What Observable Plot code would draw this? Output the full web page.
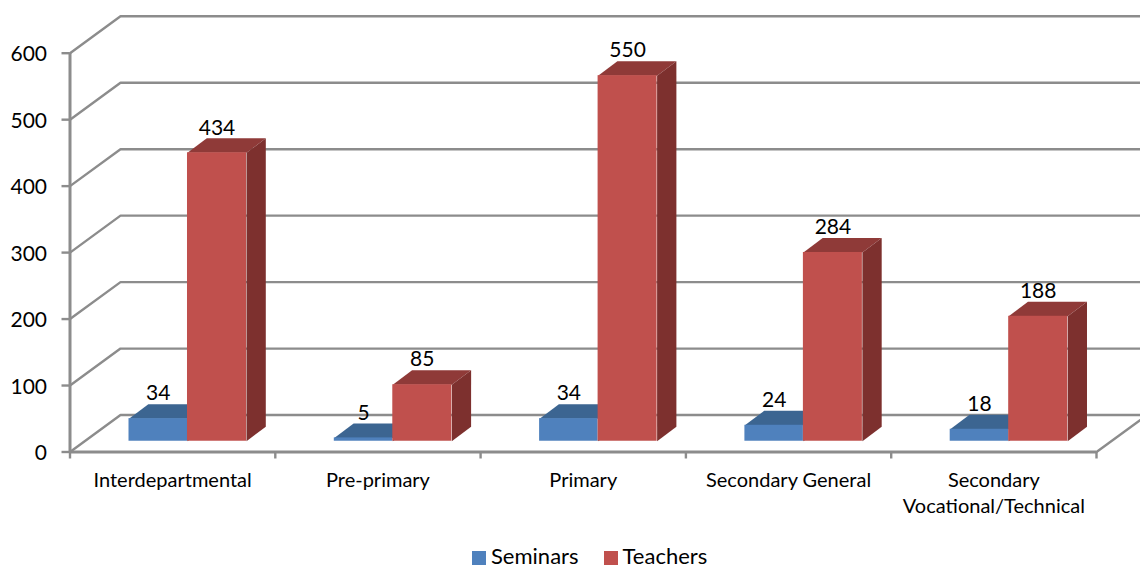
<!DOCTYPE html>
<html>
<head>
<meta charset="utf-8">
<script src="https://cdn.jsdelivr.net/npm/d3@7"></script>
<script src="https://cdn.jsdelivr.net/npm/@observablehq/plot@0.6"></script>
<style>
html,body{margin:0;padding:0;background:#fff;overflow:hidden}
#legend{position:absolute;top:542.4px;left:472px;display:flex;align-items:flex-start;height:26.4px;font:22px Lato,sans-serif;color:#000}
#legend span.s{display:inline-block;width:14px;height:14px;margin-top:8.6px;margin-right:5px}
#legend span.t{margin-right:25px}
</style>
</head>
<body>
<div id="chart"></div>
<div id="legend"></div>
<script>
const categories = ["Interdepartmental","Pre-primary","Primary","Secondary General","Secondary\nVocational/Technical"];
const seminars = [34,5,34,24,18];
const teachers = [434,85,550,284,188];
const yTicks = [0,100,200,300,400,500,600];
const seriesNames = ["Seminars","Teachers"];
const seriesColors = ["#4f81bd","#c0504d"];

// 3D projection expressed in scale units
const wallDX = 0.246, wallDY = 55.6;       // depth of the floor/back wall
const barDX = 0.094, barDY = 21.8;         // depth of a bar
const lift = 16.2;                         // bars stand forward of the axis plane
const xLeft = 0.2874, xMid = 0.5723, xRight = 0.8597;
const gridStroke = "#8c8c8c";

const quad = (id, pts) => pts.map(([x,y]) => ({id,x,y}));
const tops = (vals, a, b) => vals.flatMap((v,i) => quad(i, [
  [i+a, v+lift],[i+b, v+lift],[i+b+barDX, v+lift+barDY],[i+a+barDX, v+lift+barDY]
]));
const sides = (vals, b) => vals.flatMap((v,i) => quad(i, [
  [i+b, lift],[i+b+barDX, lift+barDY],[i+b+barDX, v+lift+barDY],[i+b, v+lift]
]));
const face = (data, fill) => Plot.line(data, {x:"x", y:"y", z:"id", fill, stroke:null, curve:"linear"});

const gridData = yTicks.flatMap(t => [
  {id:t, x:0, y:t},
  {id:t, x:wallDX, y:t+wallDY},
  {id:t, x:5+wallDX*2, y:t+wallDY}
]);
const floorEdge = [{id:"e",x:5,y:0},{id:"e",x:5+wallDX,y:wallDY}];

const fig = Plot.plot({
  width:1140, height:545,
  marginLeft:69.5, marginRight:44, marginTop:52.7, marginBottom:93.5,
  style:{background:"#fff", fontFamily:"Lato, sans-serif", color:"#000"},
  x:{type:"linear", domain:[0,5], axis:null},
  y:{type:"linear", domain:[0,600], axis:null},
  marks:[
    Plot.line(gridData,{x:"x",y:"y",z:"id",stroke:gridStroke,strokeWidth:2.4,curve:"linear"}),
    Plot.line(floorEdge,{x:"x",y:"y",z:"id",stroke:gridStroke,strokeWidth:2.4,curve:"linear"}),
    Plot.ruleX([0],{y1:0,y2:600,stroke:gridStroke,strokeWidth:3}),
    Plot.ruleY([0],{x1:0,x2:5,stroke:gridStroke,strokeWidth:3}),
    Plot.axisY({ticks:yTicks,tickSize:8,stroke:gridStroke,strokeWidth:2.4,text:null,label:null,anchor:"left"}),
    Plot.axisY({ticks:yTicks,tickSize:0,tickPadding:23,dy:1.5,fontSize:21,fill:"#000",label:null,anchor:"left",tickFormat:d=>String(d)}),
    Plot.axisX({ticks:d3.range(0,6),tickSize:7,stroke:gridStroke,strokeWidth:2.4,tickFormat:()=>"",label:null,anchor:"bottom"}),
    Plot.axisX({ticks:categories.map((_,i)=>i+0.5),tickSize:0,tickPadding:17,fontSize:20,lineHeight:1.3,fill:"#000",
      tickFormat:d=>categories[Math.floor(d)],label:null,anchor:"bottom"}),
    face(tops(seminars,xLeft,xMid),"#3c6591"),
    face(sides(seminars,xMid),"#345880"),
    Plot.rect(seminars,{x1:(_,i)=>i+xLeft,x2:(_,i)=>i+xMid,y1:lift,y2:d=>d+lift,fill:seriesColors[0]}),
    face(tops(teachers,xMid,xRight),"#8f3a38"),
    face(sides(teachers,xRight),"#7d302e"),
    Plot.rect(teachers,{x1:(_,i)=>i+xMid,x2:(_,i)=>i+xRight,y1:lift,y2:d=>d+lift,fill:seriesColors[1]}),
    Plot.text(seminars,{x:(_,i)=>i+(xLeft+xMid)/2,y:d=>d+lift,dy:-25,text:d=>String(d),fontSize:21,fill:"#000",lineAnchor:"middle"}),
    Plot.text(teachers,{x:(_,i)=>i+(xMid+xRight)/2,y:d=>d+lift,dy:-25,text:d=>String(d),fontSize:21,fill:"#000",lineAnchor:"middle"})
  ]
});
document.getElementById("chart").appendChild(fig);
fig.style.display = "block";
const legend = document.getElementById("legend");
seriesNames.forEach((n,i)=>{
  const s=document.createElement("span"); s.className="s"; s.style.background=seriesColors[i]; legend.appendChild(s);
  const t=document.createElement("span"); t.className="t"; t.textContent=n; legend.appendChild(t);
});
</script>
</body>
</html>
